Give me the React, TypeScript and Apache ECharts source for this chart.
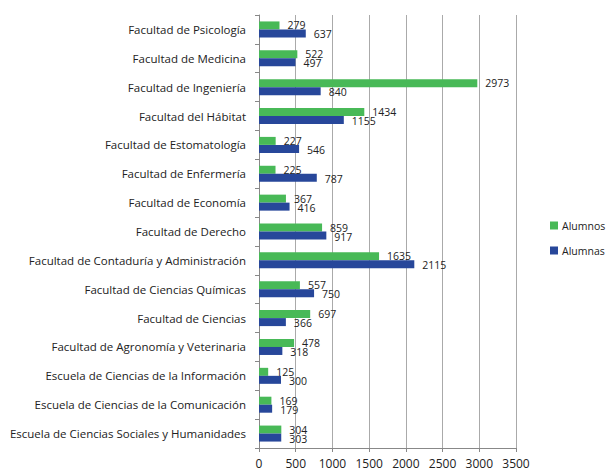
import React, { useEffect, useRef } from "react";
import * as echarts from "echarts";

const categories = [
  "Facultad de Psicología",
  "Facultad de Medicina",
  "Facultad de Ingeniería",
  "Facultad del Hábitat",
  "Facultad de Estomatología",
  "Facultad de Enfermería",
  "Facultad de Economía",
  "Facultad de Derecho",
  "Facultad de Contaduría y Administración",
  "Facultad de Ciencias Químicas",
  "Facultad de Ciencias",
  "Facultad de Agronomía y Veterinaria",
  "Escuela de Ciencias de la Información",
  "Escuela de Ciencias de la Comunicación",
  "Escuela de Ciencias Sociales y Humanidades",
];
const alumnos = [279, 522, 2973, 1434, 227, 225, 367, 859, 1635, 557, 697, 478, 125, 169, 304];
const alumnas = [637, 497, 840, 1155, 546, 787, 416, 917, 2115, 750, 366, 318, 300, 179, 303];
const seriesNames = ["Alumnos", "Alumnas"];

const FONT = "'Open Sans', 'Noto Sans', sans-serif";

export default function App() {
  const ref = useRef<HTMLDivElement>(null);
  useEffect(() => {
    if (!ref.current) return;
    const chart = echarts.init(ref.current, undefined, { renderer: "svg" });
    const labelStyle = {
      show: true,
      position: "right",
      distance: 8,
      fontFamily: FONT,
      fontSize: 10.5,
      color: "#222",
    };
    chart.setOption({
      animation: false,
      backgroundColor: "#ffffff",
      textStyle: { fontFamily: FONT },
      grid: { left: 259, right: 94, top: 15, bottom: 23 },
      legend: {
        orient: "vertical",
        left: 550,
        top: 220,
        padding: 0,
        itemWidth: 8,
        itemHeight: 8,
        itemGap: 14,
        icon: "rect",
        textStyle: { fontFamily: FONT, fontSize: 10.5, color: "#222", padding: [0, 0, 0, -1] },
        data: seriesNames,
      },
      xAxis: {
        type: "value",
        min: 0,
        max: 3500,
        interval: 500,
        axisLine: { show: true, lineStyle: { color: "#888" } },
        axisTick: { show: true, length: 4, lineStyle: { color: "#888" } },
        axisLabel: {
          fontFamily: FONT,
          fontSize: 12,
          color: "#222",
          margin: 9,
          formatter: (v: number) => String(v),
        },
        splitLine: { show: true, lineStyle: { color: "#aaa", width: 1 } },
      },
      yAxis: {
        type: "category",
        inverse: true,
        data: categories,
        axisLine: { show: true, lineStyle: { color: "#888" } },
        axisTick: { show: true, length: 4, lineStyle: { color: "#888" } },
        axisLabel: { fontFamily: FONT, fontSize: 11.5, color: "#222", margin: 13 },
      },
      series: [
        {
          name: seriesNames[0],
          type: "bar",
          data: alumnos,
          barWidth: 8,
          barGap: "0%",
          itemStyle: { color: "#48b957" },
          label: { ...labelStyle, offset: [0, 0] },
        },
        {
          name: seriesNames[1],
          type: "bar",
          data: alumnas,
          barWidth: 8,
          barGap: "0%",
          itemStyle: { color: "#27479a" },
          label: { ...labelStyle, offset: [0, 1] },
        },
      ],
    });
    return () => chart.dispose();
  }, []);
  return (
    <div
      ref={ref}
      style={{ position: "fixed", left: 0, top: 0, width: 610, height: 471 }}
    />
  );
}
